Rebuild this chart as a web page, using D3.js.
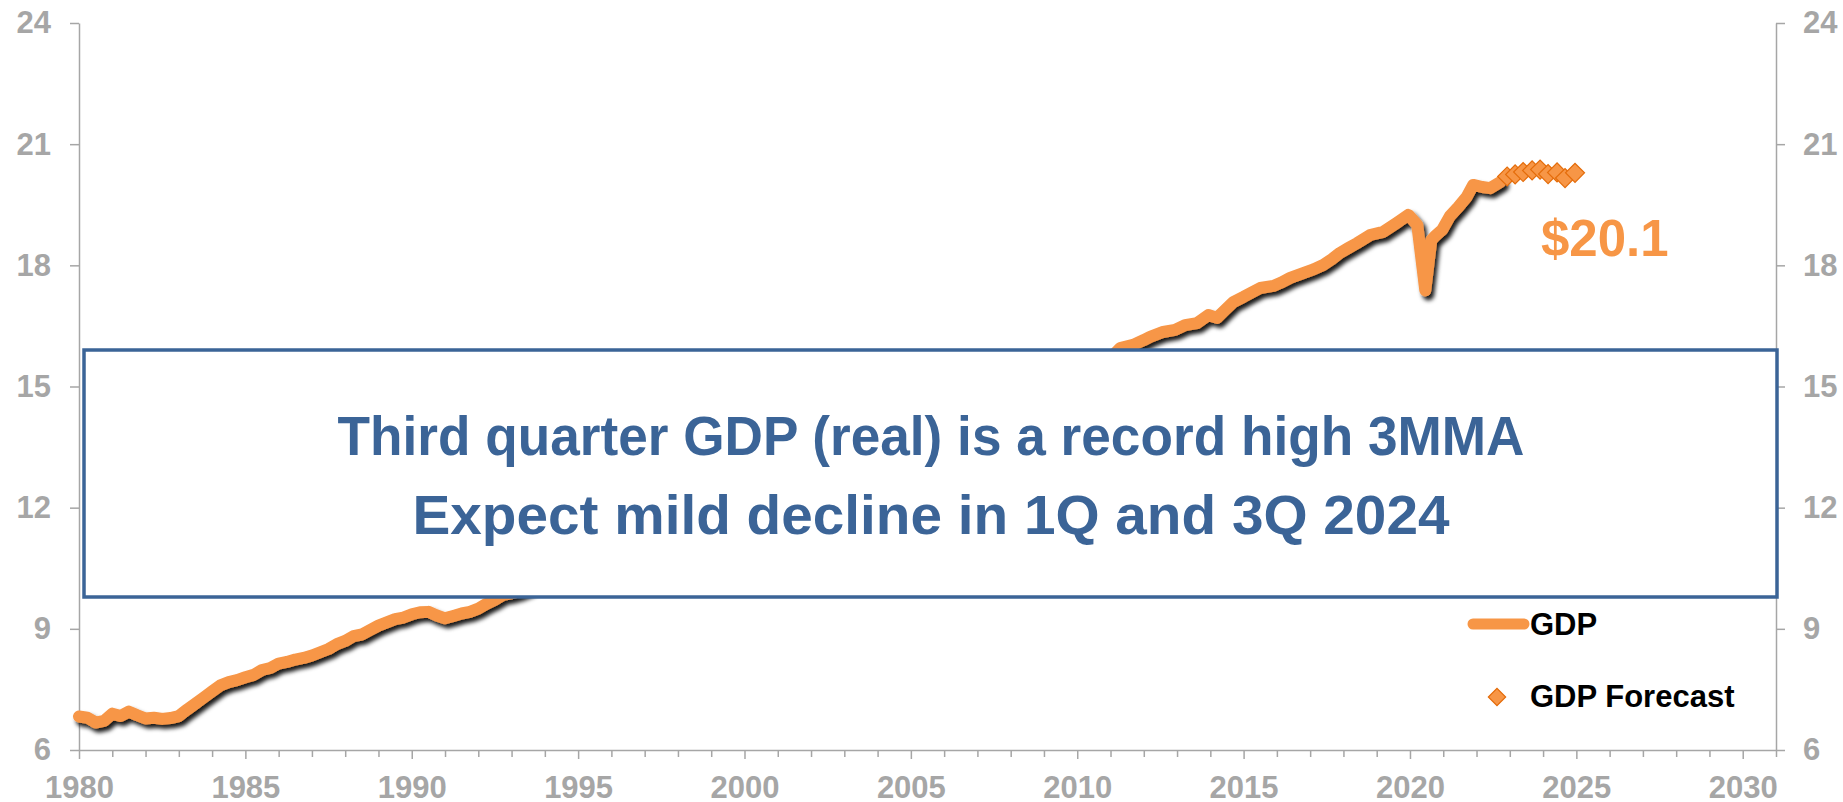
<!DOCTYPE html>
<html>
<head>
<meta charset="utf-8">
<script src="https://cdn.jsdelivr.net/npm/d3@7"></script>
<style>
  html, body { margin: 0; padding: 0; background: #ffffff; }
</style>
</head>
<body>
<div id="app"></div>
<script>
// Real GDP ($ trillions), quarterly history
const gdpDates = [
    1980.00, 1980.25, 1980.50, 1980.75, 1981.00, 1981.25, 1981.50, 1981.75,
    1982.00, 1982.25, 1982.50, 1982.75, 1983.00, 1983.25, 1983.50, 1983.75,
    1984.00, 1984.25, 1984.50, 1984.75, 1985.00, 1985.25, 1985.50, 1985.75,
    1986.00, 1986.25, 1986.50, 1986.75, 1987.00, 1987.25, 1987.50, 1987.75,
    1988.00, 1988.25, 1988.50, 1988.75, 1989.00, 1989.25, 1989.50, 1989.75,
    1990.00, 1990.25, 1990.50, 1990.75, 1991.00, 1991.25, 1991.50, 1991.75,
    1992.00, 1992.25, 1992.50, 1992.75, 1993.00, 1993.25, 1993.50, 1993.75,
    1994.0, 1994.5, 1995.0, 1995.5, 1996.0, 1996.5, 1997.0, 1997.5,
    1998.0, 1998.5, 1999.0, 1999.5, 2000.0, 2000.5, 2001.0, 2001.5,
    2002.0, 2002.5, 2003.0, 2003.5, 2004.0, 2004.5, 2005.0, 2005.5,
    2006.0, 2006.5, 2007.0, 2007.5, 2008.0, 2008.5, 2008.75, 2009.0,
    2009.5, 2010.0, 2010.5, 2011.0, 2011.29, 2011.68, 2012.0, 2012.19,
    2012.58, 2012.94, 2013.24, 2013.6, 2013.94, 2014.2, 2014.45, 2014.69,
    2015.0, 2015.2, 2015.5, 2015.89, 2016.15, 2016.4, 2016.79, 2017.1,
    2017.39, 2017.65, 2017.9, 2018.15, 2018.41, 2018.8, 2019.2, 2019.6,
    2019.95, 2020.22, 2020.46, 2020.64, 2020.75, 2020.97, 2021.2, 2021.45,
    2021.7, 2021.9, 2022.17, 2022.41, 2022.71
];
const gdpValues = [
    6.83, 6.80, 6.68, 6.72, 6.90, 6.84, 6.95, 6.86,
    6.78, 6.80, 6.77, 6.79, 6.84, 7.00, 7.15, 7.30,
    7.45, 7.60, 7.68, 7.73, 7.80, 7.86, 7.98, 8.03,
    8.14, 8.18, 8.24, 8.28, 8.34, 8.42, 8.50, 8.62,
    8.70, 8.82, 8.86, 8.97, 9.08, 9.16, 9.24, 9.28,
    9.36, 9.41, 9.42, 9.33, 9.26, 9.32, 9.38, 9.42,
    9.50, 9.62, 9.72, 9.84, 9.88, 9.94, 10.02, 10.14,
    10.22, 10.43, 10.60, 10.72, 10.88, 11.15, 11.36, 11.67,
    11.90, 12.14, 12.43, 12.66, 12.92, 13.16, 13.18, 13.17,
    13.32, 13.44, 13.57, 13.93, 14.17, 14.41, 14.67, 14.89,
    15.14, 15.21, 15.37, 15.60, 15.58, 15.55, 15.20, 15.05,
    15.08, 15.38, 15.60, 15.70, 15.95, 16.03, 16.15, 16.23,
    16.35, 16.40, 16.52, 16.57, 16.77, 16.70, 16.90, 17.09,
    17.22, 17.31, 17.44, 17.49, 17.58, 17.69, 17.81, 17.90,
    18.01, 18.15, 18.31, 18.43, 18.55, 18.75, 18.83, 19.05,
    19.25, 19.00, 17.38, 18.62, 18.72, 18.88, 19.22, 19.44,
    19.69, 19.99, 19.94, 19.91, 20.06
];

// Forecast quarters 2023Q1 - 2025Q1
const forecastDates = [2022.92, 2023.16, 2023.40, 2023.67, 2023.91, 2024.15, 2024.42, 2024.66, 2024.96];
const forecastValues = [20.20, 20.25, 20.31, 20.35, 20.37, 20.26, 20.30, 20.16, 20.29];

const yTicks = [6, 9, 12, 15, 18, 21, 24];
const xTicks = d3.range(1980, 2032);
const xLabels = [1980, 1985, 1990, 1995, 2000, 2005, 2010, 2015, 2020, 2025, 2030];

const titleLines = [
    'Third quarter GDP (real) is a record high 3MMA',
    'Expect mild decline in 1Q and 3Q 2024'
];
const latestLabel = '$20.1';
const seriesNames = ['GDP', 'GDP Forecast'];

// Layout
const width = 1843;
const height = 802;
const margin = { top: 23, right: 67, bottom: 52, left: 79 };

const orange = '#f79646';
const orangeDark = '#e46c0a';
const blue = '#3b6497';
const gray = '#a6a6a6';
const font = '"Liberation Sans", Arial, sans-serif';

const svg = d3.select('#app').append('svg')
    .attr('width', width)
    .attr('height', height)
    .style('display', 'block')
    .style('font-family', font);

// drop shadow under the line
svg.append('defs')
    .append('filter')
    .attr('id', 'shadow')
    .attr('x', '-5%').attr('y', '-5%')
    .attr('width', '110%').attr('height', '110%')
    .append('feDropShadow')
    .attr('dx', 3)
    .attr('dy', 4)
    .attr('stdDeviation', 2)
    .attr('flood-color', '#000')
    .attr('flood-opacity', 0.9);

const x = d3.scaleLinear()
    .domain([1980, 2031])
    .range([margin.left, width - margin.right]);

const y = d3.scaleLinear()
    .domain([6, 24])
    .range([height - margin.bottom, margin.top]);

// X axis
const xAxis = svg.append('g')
    .attr('transform', `translate(0, ${height - margin.bottom})`)
    .call(d3.axisBottom(x)
        .tickValues(xTicks)
        .tickSizeInner(7)
        .tickSizeOuter(0)
        .tickPadding(19)
        .tickFormat(d => xLabels.includes(d) ? d : ''));

xAxis.selectAll('.tick line')
    .attr('y2', d => d % 5 === 0 ? 9 : 7);

// Left Y axis
const yLeft = svg.append('g')
    .attr('transform', `translate(${margin.left}, 0)`)
    .call(d3.axisLeft(y).tickValues(yTicks).tickSizeInner(9).tickSizeOuter(0).tickPadding(19));

// Right Y axis
const yRight = svg.append('g')
    .attr('transform', `translate(${width - margin.right}, 0)`)
    .call(d3.axisRight(y).tickValues(yTicks).tickSizeInner(9).tickSizeOuter(0).tickPadding(18));

[xAxis, yLeft, yRight].forEach(axis => {
    axis.select('.domain').attr('stroke', gray).attr('stroke-width', 1.5);
    axis.selectAll('.tick line').attr('stroke', gray).attr('stroke-width', 1.5);
    axis.selectAll('.tick text')
        .attr('fill', gray)
        .attr('font-size', '31px')
        .attr('font-weight', 'bold')
        .attr('font-family', font);
});

// GDP line
const gdpData = gdpDates.map((d, i) => ({ date: d, value: gdpValues[i] }));

const line = d3.line()
    .x(d => x(d.date))
    .y(d => y(d.value));

svg.append('path')
    .datum(gdpData)
    .attr('d', line)
    .attr('fill', 'none')
    .attr('stroke', orange)
    .attr('stroke-width', 12)
    .attr('stroke-linejoin', 'round')
    .attr('stroke-linecap', 'round')
    .attr('filter', 'url(#shadow)');

// Forecast diamonds
const forecastData = forecastDates.map((d, i) => ({ date: d, value: forecastValues[i] }));
const diamond = d3.symbol().type(d3.symbolSquare).size(180);

svg.append('g')
    .selectAll('path')
    .data(forecastData)
    .join('path')
    .attr('d', diamond)
    .attr('transform', d => `translate(${x(d.date)}, ${y(d.value)}) rotate(45)`)
    .attr('fill', orange)
    .attr('stroke', orangeDark)
    .attr('stroke-width', 1.2);

// Callout box
svg.append('rect')
    .attr('x', 84)
    .attr('y', 350)
    .attr('width', 1693)
    .attr('height', 247)
    .attr('fill', 'white')
    .attr('stroke', blue)
    .attr('stroke-width', 3.5);

const titleWidths = [1187, 1037];

svg.append('g')
    .selectAll('text')
    .data(titleLines)
    .join('text')
    .attr('x', 931)
    .attr('y', (d, i) => 455 + i * 79)
    .attr('text-anchor', 'middle')
    .attr('fill', blue)
    .attr('font-size', '56px')
    .attr('font-weight', 'bold')
    .attr('textLength', (d, i) => titleWidths[i])
    .attr('lengthAdjust', 'spacingAndGlyphs')
    .text(d => d);

// Latest value label
svg.append('text')
    .attr('x', 1541)
    .attr('y', 256)
    .attr('fill', orange)
    .attr('font-size', '51px')
    .attr('font-weight', 'bold')
    .text(latestLabel);

// Legend
const legend = svg.append('g');

legend.append('line')
    .attr('x1', 1473).attr('x2', 1524)
    .attr('y1', 624).attr('y2', 624)
    .attr('stroke', orange)
    .attr('stroke-width', 11)
    .attr('stroke-linecap', 'round');

legend.append('path')
    .attr('d', d3.symbol().type(d3.symbolSquare).size(150))
    .attr('transform', 'translate(1497, 697) rotate(45)')
    .attr('fill', orange)
    .attr('stroke', orangeDark)
    .attr('stroke-width', 1.2);

legend.selectAll('text')
    .data(seriesNames)
    .join('text')
    .attr('x', 1530)
    .attr('y', (d, i) => 635 + i * 72)
    .attr('fill', 'black')
    .attr('font-size', '31px')
    .attr('font-weight', 'bold')
    .text(d => d);
</script>
</body>
</html>
